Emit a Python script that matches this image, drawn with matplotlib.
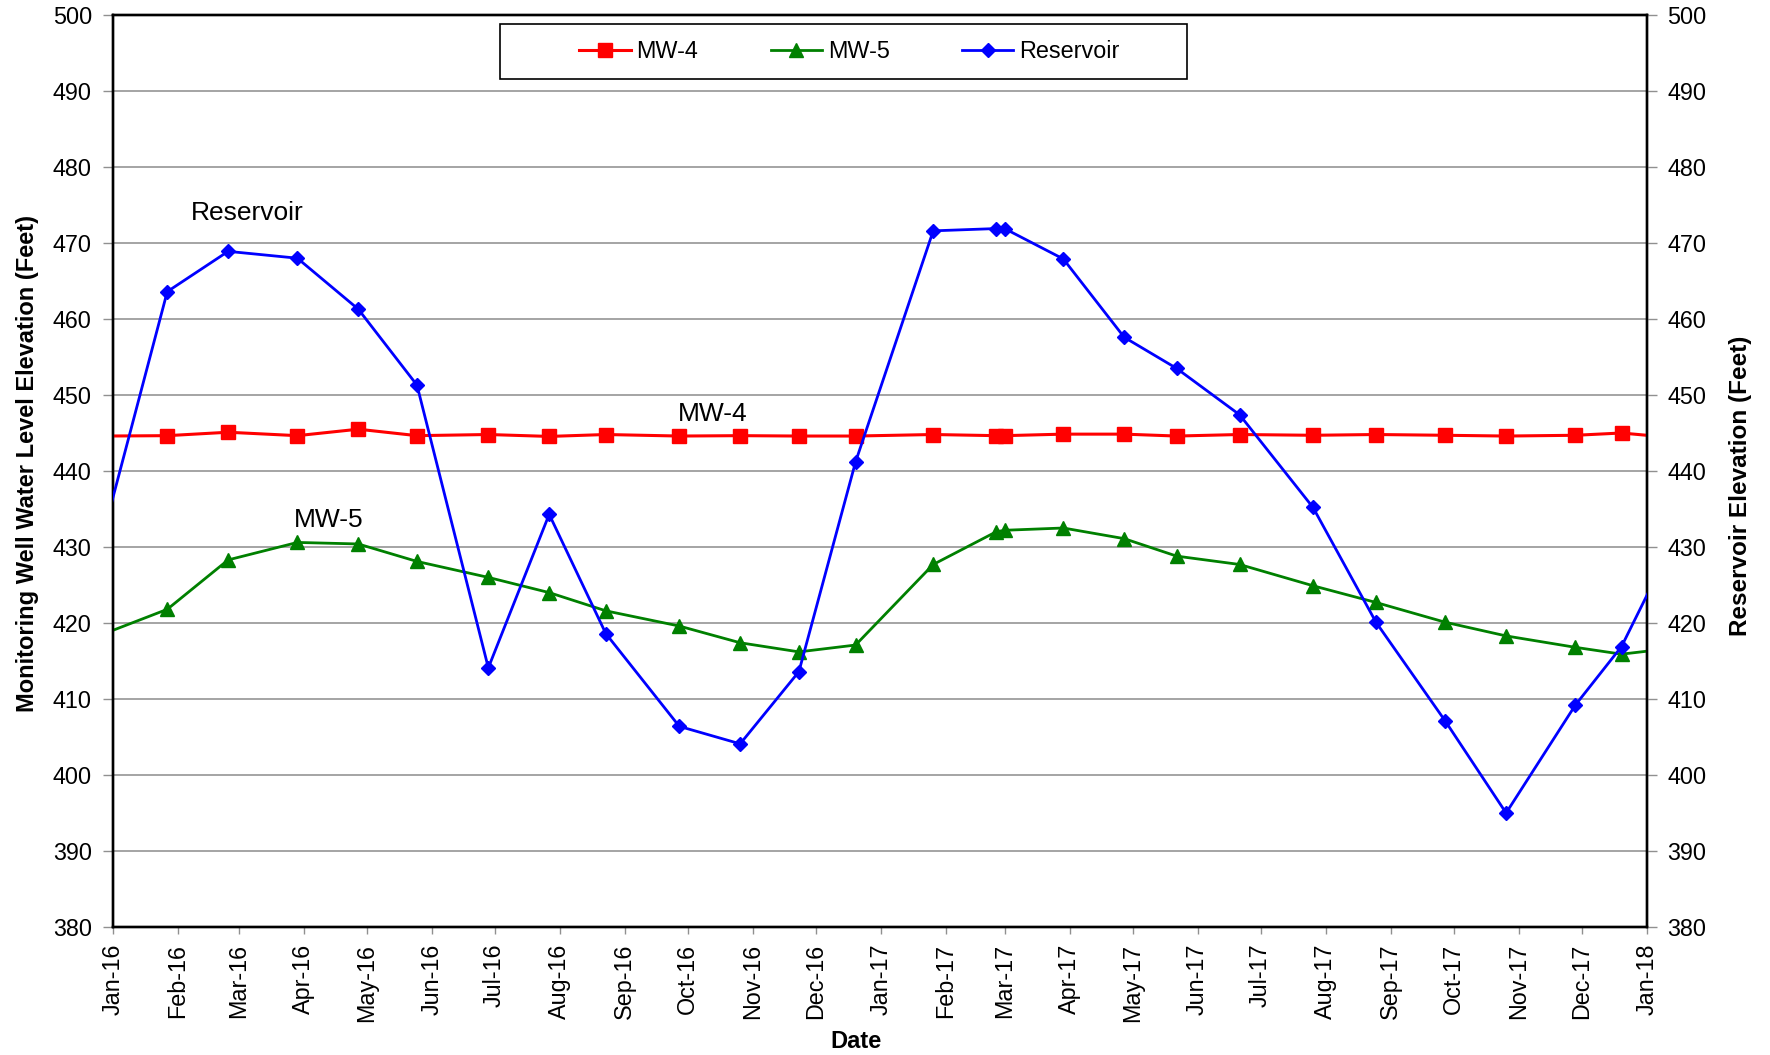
import matplotlib
matplotlib.use("Agg")
import matplotlib.pyplot as plt
import matplotlib.dates as mdates
from matplotlib.patches import Rectangle
import pandas as pd

plt.rcParams['font.family'] = ['Liberation Sans', 'DejaVu Sans']

# ---------------- data ----------------
dates = ["2015-12-28",
         "2016-01-27", "2016-02-25", "2016-03-29", "2016-04-27", "2016-05-25", "2016-06-28",
         "2016-07-27", "2016-08-23", "2016-09-27", "2016-10-26", "2016-11-23", "2016-12-20",
         "2017-01-26", "2017-02-25", "2017-03-01", "2017-03-29", "2017-04-27", "2017-05-22",
         "2017-06-21", "2017-07-26", "2017-08-25", "2017-09-27", "2017-10-26", "2017-11-28",
         "2017-12-20",
         "2018-01-17"]

mw4 = [444.6,
       444.65, 445.1, 444.65, 445.5, 444.65, 444.8,
       444.55, 444.8, 444.6, 444.65, 444.6, 444.6,
       444.8, 444.65, 444.65, 444.85, 444.85, 444.6,
       444.8, 444.7, 444.8, 444.7, 444.6, 444.7,
       445.0,
       444.3]

mw5 = [418.6,
       421.8, 428.3, 430.6, 430.4, 428.1, 426.0,
       424.0, 421.6, 419.6, 417.4, 416.2, 417.1,
       427.7, 432.0, 432.2, 432.5, 431.1, 428.8,
       427.7, 424.9, 422.7, 420.1, 418.3, 416.8,
       415.9,
       416.8]

reservoir = [432.2,
             463.6, 468.9, 468.0, 461.3, 451.3, 414.1,
             434.3, 418.6, 406.4, 404.1, 413.6, 441.2,
             471.6, 471.9, 471.9, 467.9, 457.6, 453.5,
             447.4, 435.2, 420.1, 407.1, 395.0, 409.2,
             416.9,
             432.5]

series_names = ["MW-4", "MW-5", "Reservoir"]
x_start, x_end = "2016-01-01", "2018-01-01"
y_min, y_max, y_step = 380, 500, 10

annotations = [("Reservoir", "2016-03-05", 473.9),
               ("MW-5", "2016-04-13", 433.6),
               ("MW-4", "2016-10-13", 447.45)]

# ---------------- figure ----------------
W, H = 1770, 1055
fig = plt.figure(figsize=(W / 100, H / 100), dpi=100)
L, R, T, B = 112.7, 1646.7, 15, 927
ax = fig.add_axes([L / W, 1 - B / H, (R - L) / W, (B - T) / H])
ax2 = ax.twinx()

x = pd.to_datetime(dates)

ax.plot(x, mw4, color='#FF0000', lw=2.2, marker='s', ms=10.3,
        label=series_names[0], zorder=3)
ax.plot(x, mw5, color='#008000', lw=2.0, marker='^', ms=10.5,
        label=series_names[1], zorder=3)
ax2.plot(x, reservoir, color='#0000FF', lw=2.0, marker='D', ms=7.2,
         label=series_names[2], zorder=3)

for a in (ax, ax2):
    a.set_xlim(pd.Timestamp(x_start), pd.Timestamp(x_end))
    a.set_ylim(y_min, y_max)
    a.set_yticks(range(y_min, y_max + 1, y_step))
    for s in a.spines.values():
        s.set_linewidth(1.7)
        s.set_color('black')

ax.yaxis.grid(True, color='#8c8c8c', lw=1.1)
ax.set_axisbelow(True)

ax.xaxis.set_major_locator(mdates.MonthLocator())
ax.xaxis.set_major_formatter(mdates.DateFormatter('%b-%y'))
ax.tick_params(axis='x', rotation=90, labelsize=16.8, length=5, width=1,
               color='#909090', pad=7)
ax.tick_params(axis='y', labelsize=16.8, length=7, width=1, color='#909090', pad=8)
ax2.tick_params(axis='y', labelsize=16.8, length=7, width=1, color='#909090', pad=8)

# axis titles
fig.text(28 / W, 1 - 464 / H, "Monitoring Well Water Level Elevation (Feet)",
         rotation=90, ha='center', va='center', fontsize=17, fontweight='bold')
fig.text(1740 / W, 1 - 486 / H, "Reservoir Elevation (Feet)",
         rotation=90, ha='center', va='center', fontsize=17.5, fontweight='bold')
fig.text(855.6 / W, 1 - 1041 / H, "Date", ha='center', va='center',
         fontsize=17, fontweight='bold')

# annotations
for txt, d, yv in annotations:
    ax.text(mdates.date2num(pd.Timestamp(d)), yv, txt, ha='center', va='center',
            fontsize=19, zorder=5)

# legend
h1, l1 = ax.get_legend_handles_labels()
h2, l2 = ax2.get_legend_handles_labels()
fig.legend(h1 + h2, l1 + l2, loc='center', bbox_to_anchor=(849.5 / W, 1 - 51.5 / H),
           ncol=3, frameon=False, fontsize=16.8, handlelength=2.2,
           handletextpad=0.25, columnspacing=3.1)
fig.patches.append(Rectangle((500 / W, 1 - 79 / H), 687 / W, 55 / H,
                             transform=fig.transFigure, fill=False,
                             edgecolor='black', lw=1.2))

fig.savefig("out.png", dpi=100)
